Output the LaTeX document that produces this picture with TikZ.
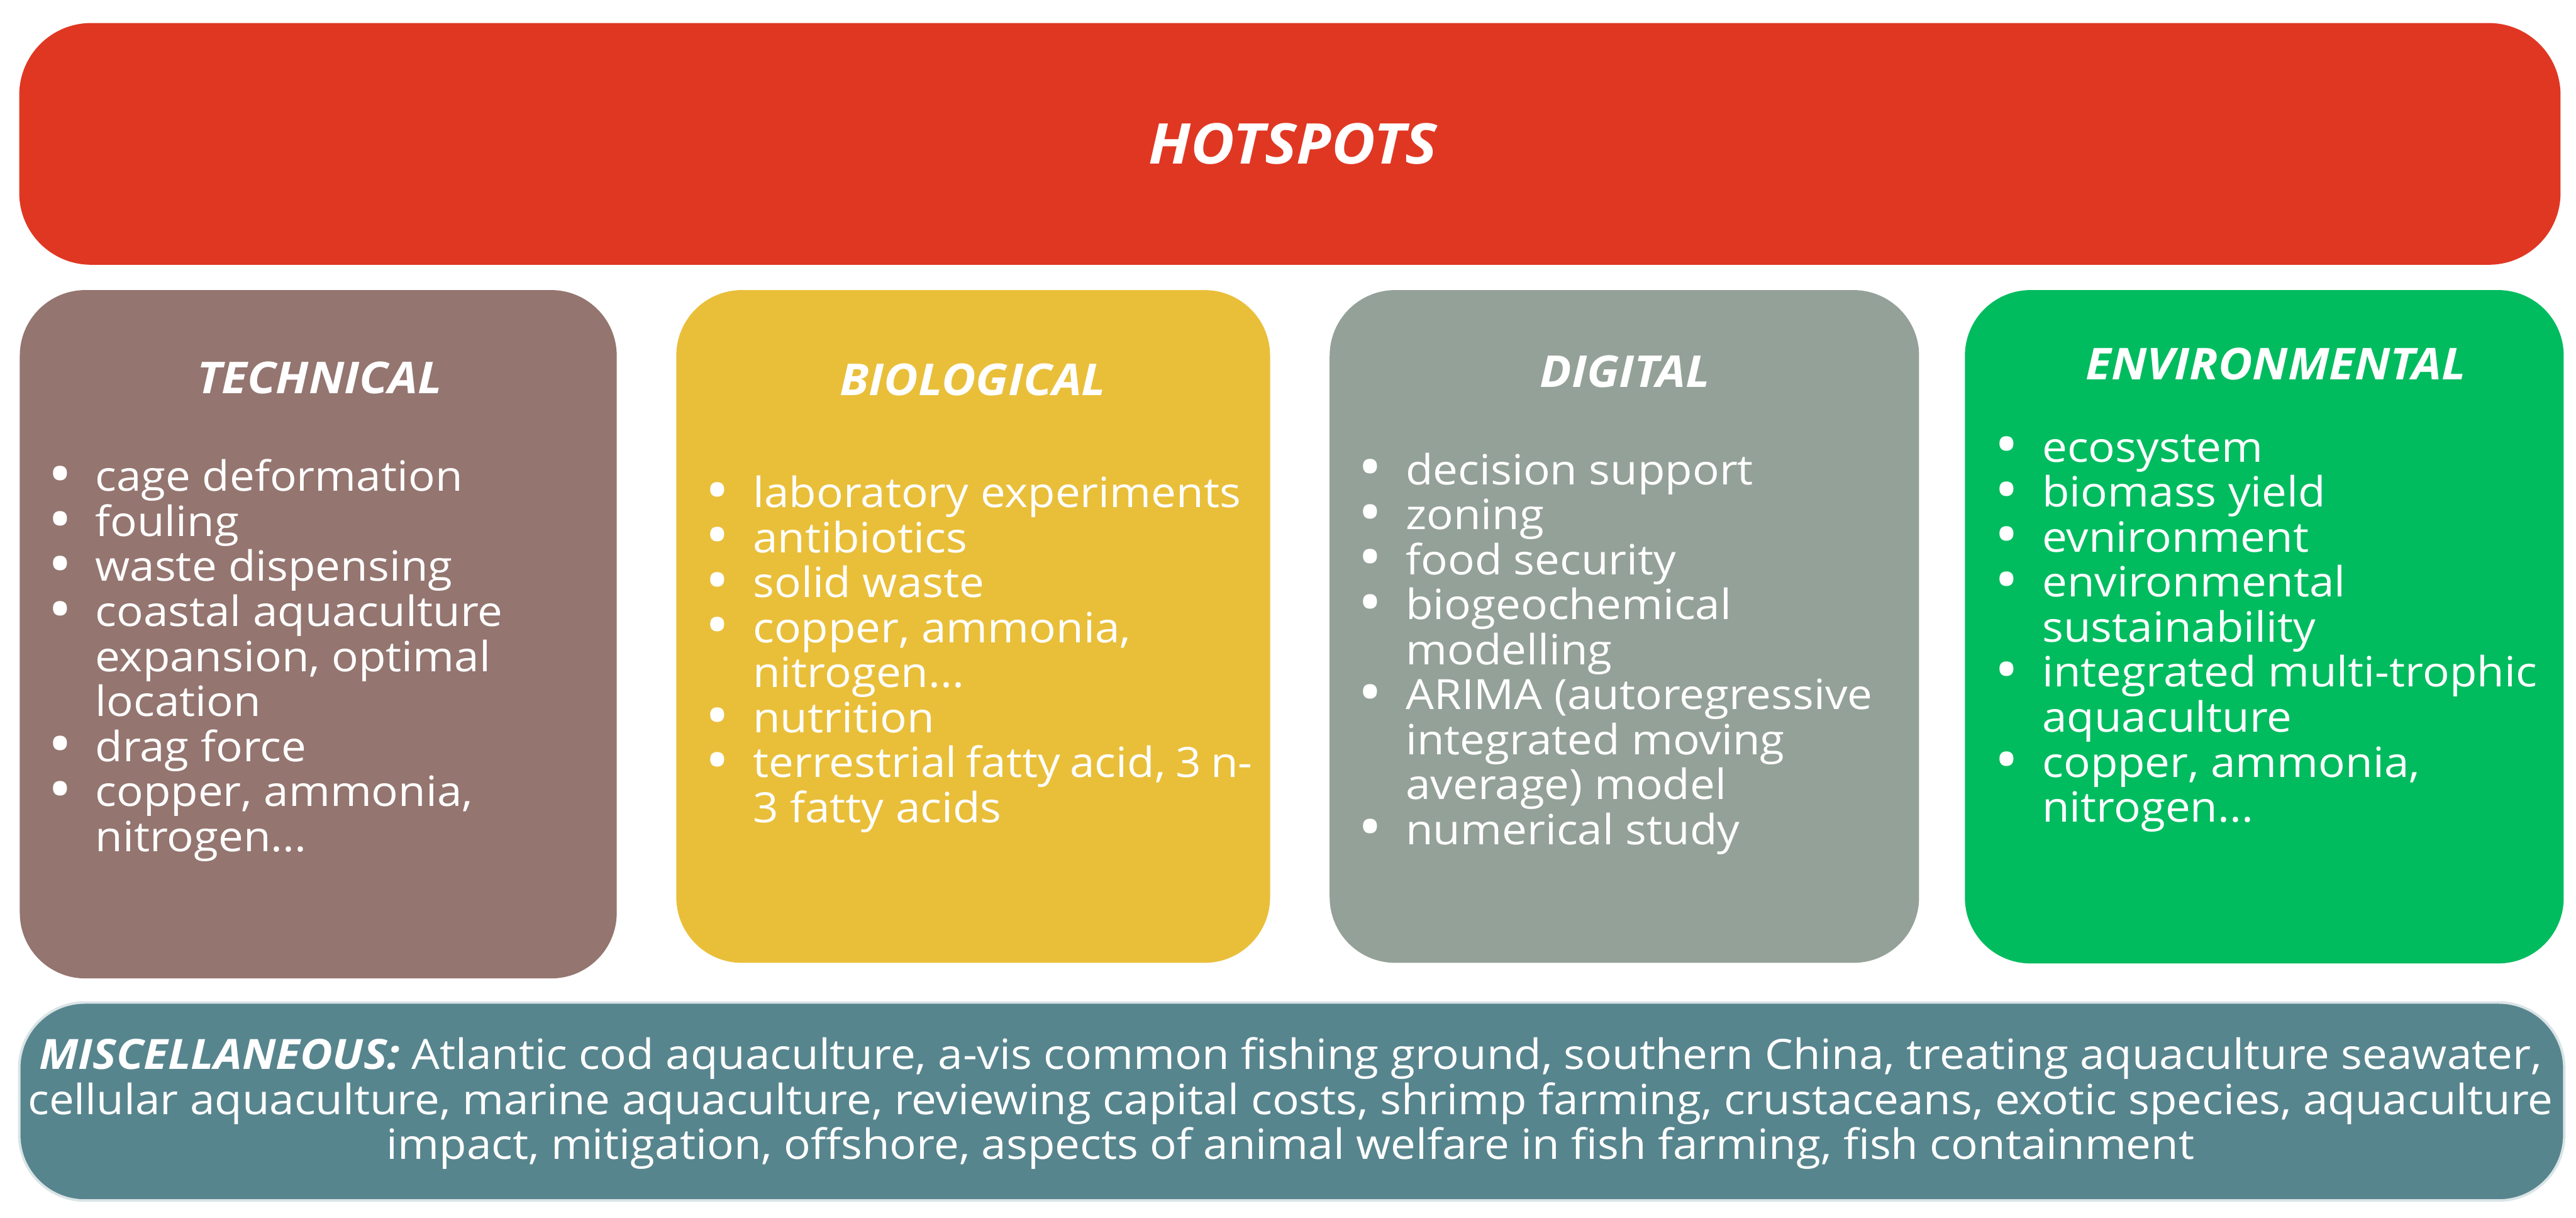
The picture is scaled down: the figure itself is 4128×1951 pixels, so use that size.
\documentclass[tikz,border=0pt]{standalone}
\usepackage{fontspec}
\setmainfont{Open Sans}[FakeStretch=1.07]
\definecolor{hotred}{HTML}{E03723}
\definecolor{techc}{HTML}{94756F}
\definecolor{bioc}{HTML}{E9BF3A}
\definecolor{digc}{HTML}{94A198}
\definecolor{envc}{HTML}{00BC5F}
\definecolor{miscc}{HTML}{57858E}
\tikzset{
  panel/.style={rounded corners=1.05cm, inner sep=0pt, draw=none},
  head/.style={text=white, anchor=base, inner sep=0pt,
    font=\fontsize{20}{24}\selectfont\bfseries\itshape},
  items/.style={text=white, anchor=base west, inner sep=0pt,
    font=\fontsize{19}{20.5}\selectfont},
}
\newcommand{\itm}{\leavevmode\llap{\raisebox{-0.1em}{\scalebox{1.45}{\textbullet}}\hspace{0.37cm}}}
\begin{document}
\begin{tikzpicture}[x=0.01cm,y=-0.01cm]
\useasboundingbox[fill=white] (0,0) rectangle (4128,1951);
% panels
\node[panel, fill=hotred, rounded corners=1.15cm, minimum width=40.70cm, minimum height=3.87cm] (hot) at (2067,230.5) {};
\node[panel, fill=techc, minimum width=9.56cm, minimum height=11.02cm] (tech) at (510,1016) {};
\node[panel, fill=bioc, minimum width=9.51cm, minimum height=10.77cm] (bio) at (1559.5,1003.5) {};
\node[panel, fill=digc, minimum width=9.44cm, minimum height=10.77cm] (dig) at (2603,1003.5) {};
\node[panel, fill=envc, minimum width=9.59cm, minimum height=10.78cm] (env) at (3628.5,1004) {};
\node[panel, fill=miscc, draw=miscc!22, line width=0.04cm, minimum width=40.76cm, minimum height=3.17cm] (misc) at (2070,1764.5) {};
% headings
\node[head, font=\fontsize{25.6}{29}\selectfont\bfseries\itshape] (hottitle) at (2072,263) {HOTSPOTS};
\node[head] (techtitle) at (512,630) {TECHNICAL};
\node[head] (biotitle) at (1559,633) {BIOLOGICAL};
\node[head] (digtitle) at (2604,620) {DIGITAL};
\node[head] (envtitle) at (3647,608) {ENVIRONMENTAL};
% lists
\node[items] (techlist) at (152,787) {\parbox[t]{8cm}{%
\itm cage deformation\\
\itm fouling\\
\itm waste dispensing\\
\itm coastal aquaculture\\
expansion, optimal\\
location\\
\itm drag force\\
\itm copper, ammonia,\\
nitrogen...}};
\node[items] (biolist) at (1206,813) {\parbox[t]{8cm}{%
\itm laboratory experiments\\
\itm antibiotics\\
\itm solid waste\\
\itm copper, ammonia,\\
nitrogen...\\
\itm nutrition\\
\itm terrestrial fatty acid, 3 n-\\
3 fatty acids}};
\node[items] (diglist) at (2252,776) {\parbox[t]{8cm}{%
\itm decision support\\
\itm zoning\\
\itm food security\\
\itm biogeochemical\\
modelling\\
\itm ARIMA (autoregressive\\
integrated moving\\
average) model\\
\itm numerical study}};
\node[items] (envlist) at (3272,740) {\parbox[t]{8cm}{%
\itm ecosystem\\
\itm biomass yield\\
\itm evnironment\\
\itm environmental\\
sustainability\\
\itm integrated multi-trophic\\
aquaculture\\
\itm copper, ammonia,\\
nitrogen...}};
% miscellaneous
\node[items, anchor=base] (misctext) at (2068,1713) {\parbox[t]{41cm}{\centering
\textbf{\textit{MISCELLANEOUS:}} Atlantic cod aquaculture, a-vis common fishing ground, southern China, treating aquaculture seawater,\\
cellular aquaculture, marine aquaculture, reviewing capital costs, shrimp farming, crustaceans, exotic species, aquaculture\\
impact, mitigation, offshore, aspects of animal welfare in fish farming, fish containment}};
\end{tikzpicture}
\end{document}
